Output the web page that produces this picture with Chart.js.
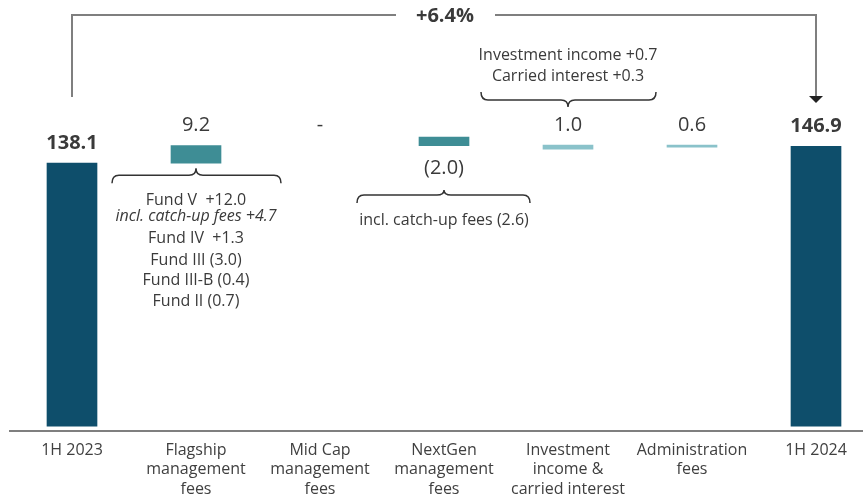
<!DOCTYPE html>
<html>
<head>
<meta charset="utf-8">
<script src="https://cdn.jsdelivr.net/npm/chart.js@4"></script>
<style>
  html, body { margin: 0; padding: 0; background: #fff; overflow: hidden; }
  #wrap { width: 863px; height: 497px; overflow: hidden; }
</style>
</head>
<body>
<div id="wrap"><canvas id="chart" width="880" height="497"></canvas></div>
<script>
// waterfall data
const categories = [
  ["1H 2023"],
  ["Flagship", "management", "fees"],
  ["Mid Cap", "management", "fees"],
  ["NextGen", "management", "fees"],
  ["Investment", "income &", "carried interest"],
  ["Administration", "fees"],
  ["1H 2024"]
];
const barLow = [0, 138.1, null, 147.3, 145.5, 146.5, 0];
const barHigh = [138.1, 147.3, null, 151.8, 147.6, 147.6, 146.9];
const labelLevel = [138.1, 147.3, 147.3, 147.3, 147.6, 147.6, 146.9];
const valueLabels = ["138.1", "9.2", "-", "(2.0)", "1.0", "0.6", "146.9"];
const totalChange = "+6.4%";
const flagshipNotes = ["Fund V  +12.0", "incl. catch-up fees +4.7", "Fund IV  +1.3", "Fund III (3.0)", "Fund III-B (0.4)", "Fund II (0.7)"];
const nextGenNote = "incl. catch-up fees (2.6)";
const investNotes = ["Investment income +0.7", "Carried interest +0.3"];

const colors = ["#0e4e6b", "#3e8d95", "#3e8d95", "#3e8d95", "#8ac2ca", "#8ac2ca", "#0e4e6b"];
const FONT = "'Open Sans', 'DejaVu Sans', sans-serif";
const TEXT = "#3a3a3a";
const LINE = "#7f7f7f";

function drawBrace(ctx, x1, x2, tipX, yEnd, yFlat, yTip) {
  const r = 7;
  ctx.beginPath();
  ctx.moveTo(x1, yEnd);
  ctx.quadraticCurveTo(x1, yFlat, x1 + r, yFlat);
  ctx.lineTo(tipX - r, yFlat);
  ctx.quadraticCurveTo(tipX, yFlat, tipX, yTip);
  ctx.quadraticCurveTo(tipX, yFlat, tipX + r, yFlat);
  ctx.lineTo(x2 - r, yFlat);
  ctx.quadraticCurveTo(x2, yFlat, x2, yEnd);
  ctx.stroke();
}

const annotations = {
  id: "annotations",
  afterDraw(chart) {
    const ctx = chart.ctx;
    const xs = chart.scales.x;
    const ys = chart.scales.y;
    ctx.save();
    ctx.textAlign = "center";
    ctx.textBaseline = "middle";
    ctx.fillStyle = TEXT;

    // value labels
    const px = categories.map((c, i) => xs.getPixelForValue(i));
    valueLabels.forEach((lab, i) => {
      const total = i === 0 || i === valueLabels.length - 1;
      ctx.font = (total ? "bold " : "") + "20px " + FONT;
      if (i === 3) {
        ctx.fillText(lab, px[i], ys.getPixelForValue(barLow[i]) + 23);
      } else {
        ctx.fillText(lab, px[i], ys.getPixelForValue(labelLevel[i]) - 20);
      }
    });

    // top bracket with growth
    const xa = px[0], xb = px[6];
    const yTop = 15;
    const midX = (px[2] + px[4]) / 2 - 6;
    ctx.strokeStyle = LINE;
    ctx.lineWidth = 2;
    ctx.beginPath();
    ctx.moveTo(xa, 97);
    ctx.lineTo(xa, yTop);
    ctx.lineTo(midX - 42, yTop);
    ctx.moveTo(midX + 57, yTop);
    ctx.lineTo(xb, yTop);
    ctx.lineTo(xb, 97);
    ctx.stroke();
    ctx.fillStyle = "#222";
    ctx.beginPath();
    ctx.moveTo(xb - 7, 96);
    ctx.lineTo(xb + 7, 96);
    ctx.lineTo(xb, 103);
    ctx.closePath();
    ctx.fill();
    ctx.font = "bold 20px " + FONT;
    ctx.fillStyle = TEXT;
    ctx.fillText(totalChange, midX + 7, yTop + 1);

    // flagship brace and notes
    ctx.strokeStyle = "#333";
    ctx.lineWidth = 1.5;
    const fBase = ys.getPixelForValue(barLow[1]);
    drawBrace(ctx, px[1] - 84, px[1] + 85, px[1], fBase + 20, fBase + 12, fBase + 5);
    ctx.fillStyle = TEXT;
    const fy = [200, 216, 238, 260, 280, 301];
    flagshipNotes.forEach((t, i) => {
      ctx.font = (i === 1 ? "italic " : "") + "16px " + FONT;
      ctx.fillText(t, px[1], fy[i]);
    });

    // nextgen brace and note
    drawBrace(ctx, px[3] - 87, px[3] + 86, px[3], 203, 195, 190);
    ctx.font = "16px " + FONT;
    ctx.fillText(nextGenNote, px[3], 220);

    // investment brace (opens upward)
    drawBrace(ctx, px[4] - 87, px[4] + 88, px[4], 92, 100, 107);
    ctx.font = "16px " + FONT;
    ctx.fillText(investNotes[0], px[4], 55);
    ctx.fillText(investNotes[1], px[4], 76);

    ctx.restore();
  }
};

new Chart(document.getElementById("chart"), {
  type: "bar",
  data: {
    labels: categories,
    datasets: [{
      data: barLow.map((lo, i) => lo === null ? null : [lo, barHigh[i]]),
      backgroundColor: colors,
      borderWidth: 0,
      barThickness: 50
    }]
  },
  options: {
    responsive: false,
    animation: false,
    devicePixelRatio: 1,
    layout: { padding: { left: 10, right: 2, top: 0, bottom: 0 } },
    plugins: { legend: { display: false }, tooltip: { enabled: false } },
    scales: {
      x: {
        grid: { display: false },
        border: { display: true, color: LINE, width: 2 },
        ticks: {
          color: "#404040",
          font: { family: FONT, size: 16, lineHeight: 1.2 },
          padding: 2,
          maxRotation: 0,
          autoSkip: false
        },
        afterFit(scale) { scale.height = 66; }
      },
      y: {
        display: false,
        min: -2.6,
        max: 223.8
      }
    }
  },
  plugins: [annotations]
});
</script>
</body>
</html>
